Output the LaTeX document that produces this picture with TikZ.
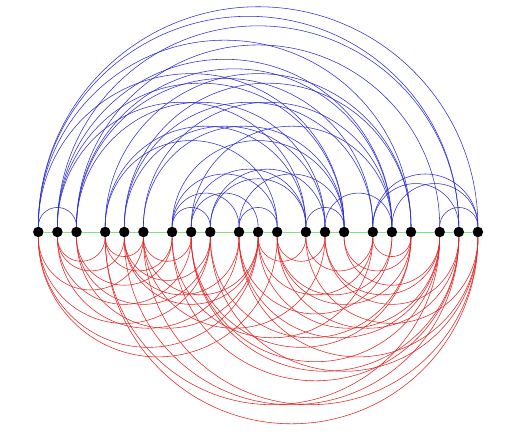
\documentclass[tikz,border=0pt]{standalone}
\usetikzlibrary{calc}
\definecolor{arcblue}{RGB}{45,45,215}
\definecolor{arcred}{RGB}{228,35,35}
\definecolor{spinegreen}{RGB}{120,230,120}
\begin{document}
\begin{tikzpicture}[x=1pt, y=1pt,
  vertex/.style={circle, fill=black, inner sep=0pt, minimum size=10.5pt},
  uparc/.style={arcblue, line width=0.55pt},
  downarc/.style={arcred, line width=0.55pt}]
  \useasboundingbox (0,0) rectangle (511,435);
  % --- vertices: 7 groups of 3 along the spine ---
  \foreach \g in {0,...,6} {
    \foreach \k in {0,1,2} {
      \pgfmathtruncatemacro{\n}{3*\g+\k}
      \node[vertex] (v\n) at ({38.3+66.9*\g+19.1*\k}, 203) {};
    }
  }
  % --- spine ---
  \foreach \i [evaluate=\i as \j using int(\i+1)] in {0,...,19}
    \draw[spinegreen, line width=0.8pt] (v\i) -- (v\j);
  % --- upper page ---
  \foreach \a/\b in {0/2, 0/20, 0/19, 1/19, 2/18, 12/14, 18/20, 15/19, 15/20,
      16/20, 6/8, 9/11, 6/9, 7/10, 6/11, 0/14, 0/17, 1/16, 1/14, 1/12, 2/15,
      2/16, 2/13, 3/17, 3/12, 3/11, 4/17, 4/15, 4/13, 5/16, 5/14, 6/14,
      7/16, 7/12, 8/12, 8/13, 9/14, 13/16}
    \draw[uparc] let \p1=(v\a), \p2=(v\b) in
      (v\a.north) arc[start angle=180, end angle=0, radius={(\x2-\x1)/2}];
  % --- lower page ---
  \foreach \a/\b in {3/20, 3/18, 4/19, 5/20, 0/10, 0/11, 15/17, 3/5, 0/5, 0/8,
      1/3, 1/4, 1/7, 1/9, 2/6, 2/8, 2/10, 3/6, 4/8, 4/9, 4/10, 5/7, 5/10,
      5/13, 6/15, 6/19, 7/17, 7/18, 7/19, 8/17, 8/20, 9/16, 9/18, 9/20,
      10/12, 10/15, 10/18, 11/13, 11/16, 11/17, 11/19, 12/15, 12/20, 13/18,
      13/19, 14/17, 14/18}
    \draw[downarc] let \p1=(v\a), \p2=(v\b) in
      (v\a.south) arc[start angle=180, end angle=360, radius={(\x2-\x1)/2}];
\end{tikzpicture}
\end{document}
